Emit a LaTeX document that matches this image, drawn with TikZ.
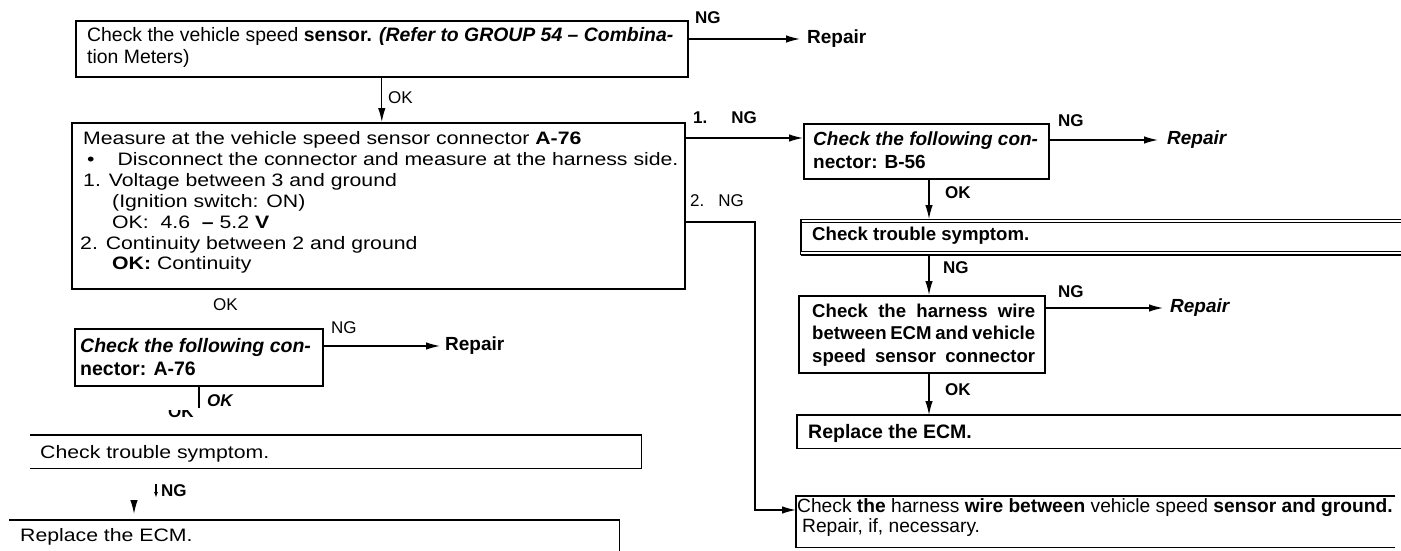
\documentclass[tikz,border=0pt]{standalone}
\usepackage{fontspec}
\setmainfont{Liberation Sans}[FakeStretch=1.18]
\newfontfamily\plainsf{Liberation Sans}[Ligatures=TeX]
\usetikzlibrary{arrows.meta,positioning}

\newcommand{\boxlines}[2]{\parbox[t]{#1}{\raggedright #2}}

\begin{document}
\begin{tikzpicture}[
  x=1pt,
  y=-1pt,
  box/.style={draw, line width=1.6pt, inner sep=0pt, anchor=north west},
  openbox/.style={inner sep=0pt, anchor=north west},
  edgeline/.style={line width=1.6pt},
  doubleline/.style={double, double distance=2pt, line width=1.1pt},
  flow/.style={line width=1.3pt, -{Latex[length=14pt,width=7.5pt]}},
  smallflow/.style={line width=1.3pt, -{Latex[length=6pt,width=4pt]}},
  wire/.style={line width=1.3pt},
  txt/.style={inner sep=0pt, anchor=base west},
  tag/.style={inner sep=0pt, anchor=base west, font=\plainsf\fontsize{17}{20}\selectfont},
  tagbold/.style={tag, font=\plainsf\bfseries\fontsize{17}{20}\selectfont},
  repair/.style={inner sep=0pt, anchor=west, font=\plainsf\bfseries\fontsize{19}{22}\selectfont},
  repairit/.style={repair, font=\plainsf\bfseries\itshape\fontsize{19}{22}\selectfont}
]
\useasboundingbox (0,0) rectangle (1401,551);

% ---------------------------------------------------------------------------
% left column
% ---------------------------------------------------------------------------
\node[box, minimum width=612, minimum height=56] (sensor) at (75,20) {};
\node[txt] (sensortx) at (87,42) {\boxlines{640pt}{\plainsf\fontsize{19.4}{21}\selectfont
  Check the vehicle speed \textbf{sensor.} \textbf{\textit{(Refer to GROUP 54 – Combina-}}\\
  tion Meters)}};
\node[tagbold] (ng1) at (695,24) {NG};
\node[repair] (rep1) at (807,39) {Repair};
\node[tag] (ok1) at (388,103) {OK};

\node[box, minimum width=613, minimum height=166] (measure) at (71,122) {};
\node[txt] (measuretx) at (83,144) {\boxlines{640pt}{\fontsize{18}{21}\selectfont
  Measure at the vehicle speed sensor connector \textbf{A-76}\\
  \hspace*{4pt}\textbullet\hspace{23pt}Disconnect the connector and measure at the harness side.\\
  1. Voltage between 3 and ground\\
  \hspace*{29pt}(Ignition switch: ON)\\
  \hspace*{29pt}OK:\ \ 4.6 \ \textbf{–}\ 5.2 \textbf{V}\\
  \hspace*{-3pt}2. Continuity between 2 and ground\\
  \hspace*{29pt}\textbf{OK:} Continuity}};
\node[tagbold] (ng2) at (693,124) {1.\hspace{24pt}NG};
\node[tag] (ng3) at (690,206) {2.\hspace{14pt}NG};
\node[tag] (ok4) at (213,310) {OK};

\node[box, minimum width=248, minimum height=57] (conn76) at (74,328) {};
\node[txt] (conn76tx) at (80,352) {\boxlines{300pt}{\plainsf\bfseries\fontsize{19.5}{23}\selectfont
  \textit{Check the following con-}\\
  nector: A-76}};
\node[tag] (ng7) at (331,333) {NG};
\node[repair] (rep4) at (445,346) {Repair};
\node[tagbold, font=\plainsf\bfseries\itshape\fontsize{17}{20}\selectfont] (ok5) at (207,406) {OK};
\begin{scope}
  \clip (160,410) rectangle (200,422);
  \node[tagbold] (okcut) at (168,417) {OK};
\end{scope}

\node[openbox, minimum width=611, minimum height=33] (troubleL) at (30,435) {};
\node[txt] (troubleLtx) at (40,458) {\fontsize{18}{21}\selectfont Check trouble symptom.};
\node[tagbold] (ng8) at (161,496) {NG};

\node[openbox, minimum width=610, minimum height=31] (replaceL) at (9,520) {};
\node[txt] (replaceLtx) at (20,541) {\fontsize{18}{21}\selectfont Replace the ECM.};

% ---------------------------------------------------------------------------
% right column
% ---------------------------------------------------------------------------
\node[box, minimum width=245, minimum height=55] (conn56) at (803,123) {};
\node[txt] (conn56tx) at (813,145) {\boxlines{300pt}{\plainsf\bfseries\fontsize{19}{23.5}\selectfont
  \textit{Check the following con-}\\
  nector: B-56}};
\node[tagbold] (ng4) at (1058,126) {NG};
\node[repairit] (rep2) at (1167,140) {Repair};
\node[tagbold] (ok2) at (945,198) {OK};

\node[openbox, minimum width=600, minimum height=32] (troubleR) at (801,221) {};
\node[txt] (troubleRtx) at (812,240) {\plainsf\bfseries\fontsize{18.6}{21}\selectfont Check trouble symptom.};
\node[tagbold] (ng5) at (943,273) {NG};

\node[box, minimum width=246, minimum height=77] (harness) at (798,295) {};
\node[txt] (harnesstx) at (812,317) {\parbox[t]{223pt}{\plainsf\bfseries\fontsize{18.6}{22.5}\selectfont
  \hbox to 223pt{Check\hfill the\hfill harness\hfill wire}
  \hbox to 223pt{between\hfill ECM\hfill and\hfill vehicle}
  \hbox to 223pt{speed\hfill sensor\hfill connector}}};
\node[tagbold] (ng6) at (1058,297) {NG};
\node[repairit] (rep3) at (1170,308) {Repair};
\node[tagbold] (ok3) at (945,395) {OK};

\node[openbox, minimum width=604, minimum height=33] (replaceR) at (797,415) {};
\node[txt] (replaceRtx) at (808,438) {\plainsf\bfseries\fontsize{19.5}{22}\selectfont Replace the ECM.};

\node[openbox, minimum width=599, minimum height=51] (wirecheck) at (796,496) {};
\node[txt] (wirechecktx) at (797,512) {\boxlines{640pt}{\plainsf\fontsize{19.2}{20}\selectfont
  Check \textbf{the} harness \textbf{wire between} vehicle speed \textbf{sensor and ground.}\\
  \hspace*{5pt}Repair, if, necessary.}};

% open frames
\draw[edgeline] (troubleL.north west) -- (troubleL.north east) -- (troubleL.south east) -- (troubleL.south west);
\draw[edgeline] (replaceL.north west) -- (replaceL.north east) -- (replaceL.south east);
\draw[doubleline] (troubleR.north east) -- (troubleR.north west);
\draw[edgeline] ([yshift=2pt]troubleR.north west) -- ([yshift=-2pt]troubleR.south west);
\draw[doubleline] (troubleR.south west) -- (troubleR.south east);
\draw[edgeline] (replaceR.north east) -- (replaceR.north west) -- (replaceR.south west) -- (replaceR.south east);
\draw[edgeline] (wirecheck.north east) -- (wirecheck.north west) -- (wirecheck.south west) -- (wirecheck.south east);

% connectors
\coordinate (in56) at (803,138);
\coordinate (bend) at (755,222);
\coordinate (inwire) at (796,510);
\coordinate (spine) at (929,0);
\coordinate (stubend) at (199,408);
\coordinate (ngA) at (156,484);
\coordinate (ngB) at (156,498);
\coordinate (tipA) at (134,500);
\coordinate (tipB) at (134,514);

\draw[flow] (sensor.east |- rep1.west) -- ([xshift=-7pt]rep1.west);
\draw[flow] (sensor.south) -- (sensor.south |- measure.north);
\draw[flow] (measure.east |- in56) -- (in56);
\draw[flow] (measure.east |- bend) -- (bend) |- (inwire);
\draw[flow] (conn76.east |- rep4.west) -- ([xshift=-5pt]rep4.west);
\draw[wire] (conn76.south -| stubend) -- (stubend);
\draw[smallflow] (ngA) -- (ngB);
\draw[flow] (tipA) -- (tipB);

\draw[flow] (conn56.east |- rep2.west) -- ([xshift=-9pt]rep2.west);
\draw[flow] (conn56.south -| spine) -- ([yshift=2pt]troubleR.north -| spine);
\draw[flow] ([yshift=-2pt]troubleR.south -| spine) -- (harness.north -| spine);
\draw[flow] (harness.east |- rep3.west) -- ([xshift=-7pt]rep3.west);
\draw[flow] (harness.south -| spine) -- (replaceR.north -| spine);
\end{tikzpicture}
\end{document}
